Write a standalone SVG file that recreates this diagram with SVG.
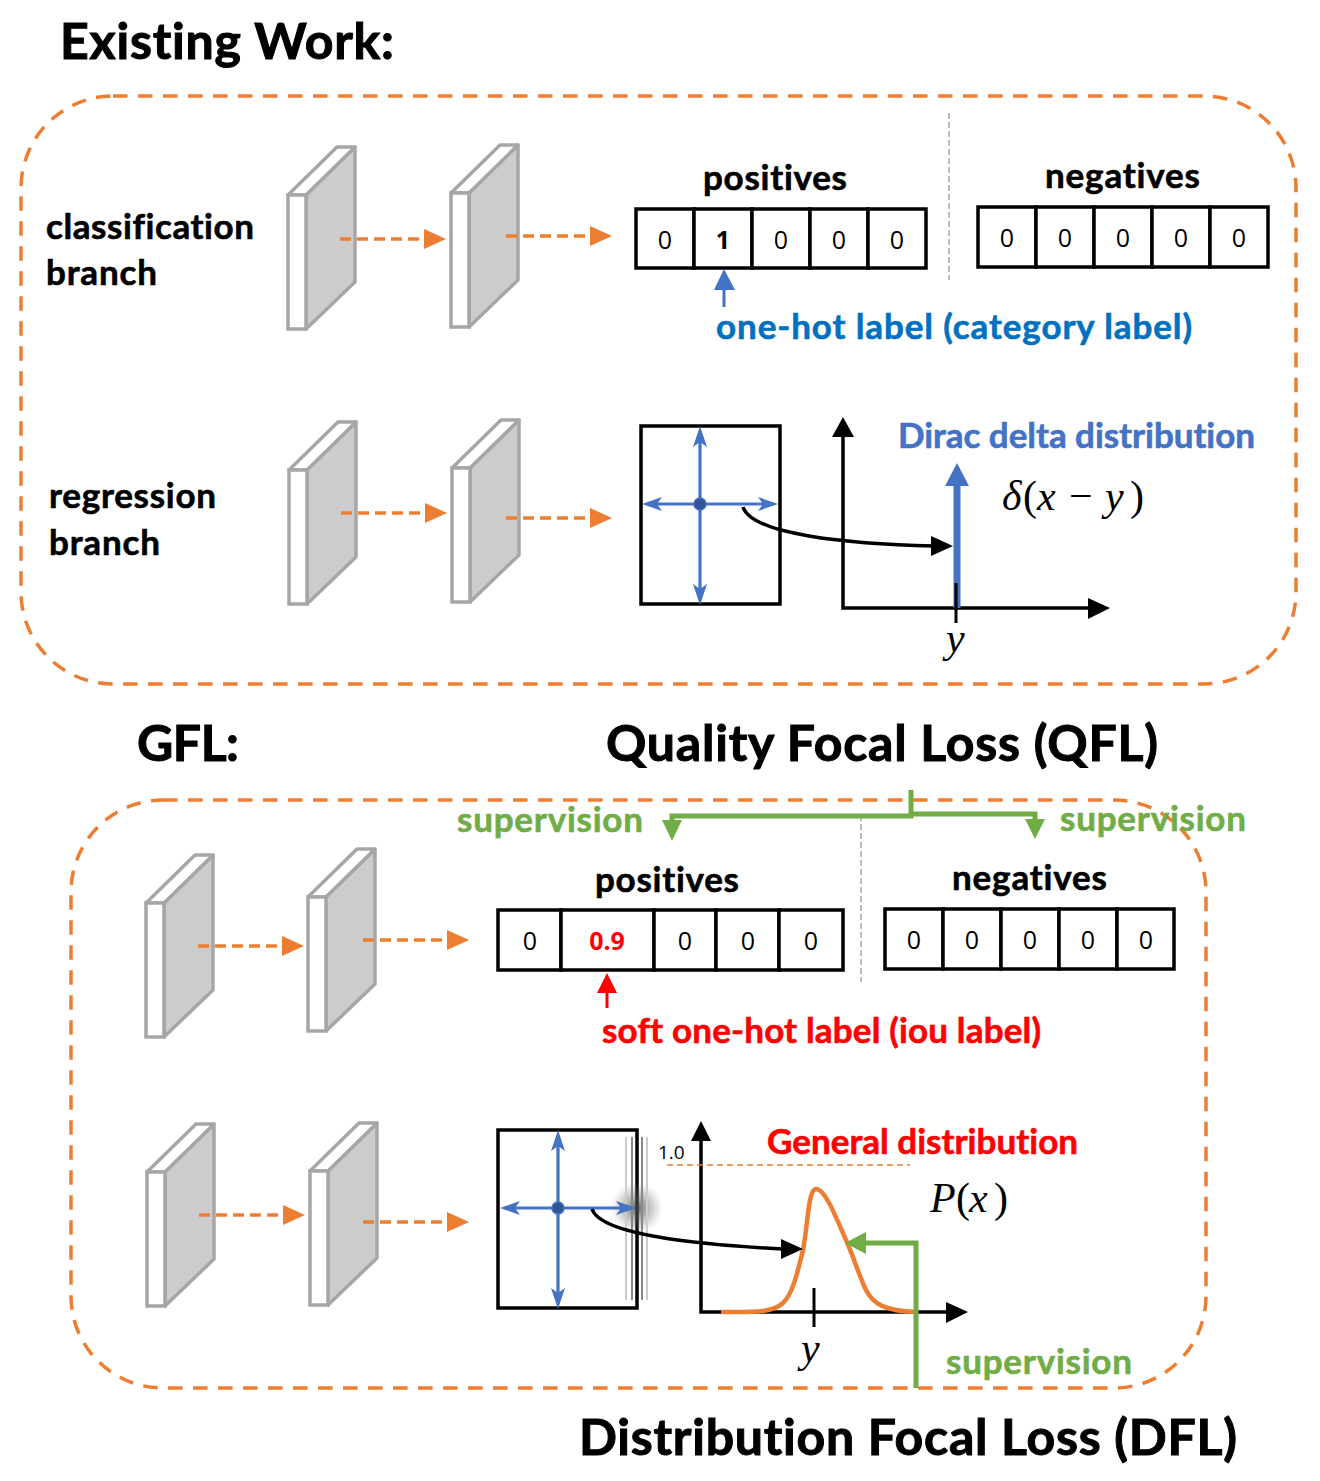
<svg xmlns="http://www.w3.org/2000/svg" width="1320" height="1481" viewBox="0 0 1320 1481">
<style>
text{font-family:"Lato","Open Sans","Liberation Sans",sans-serif;font-weight:700;font-variant-ligatures:none}
.h{font-size:50px;fill:#000;stroke:#000;stroke-width:1}
.b{font-size:35px;fill:#000;stroke:#000;stroke-width:.6}
.lab{font-size:35px;stroke-width:.6}
.blu{fill:#0070c0;stroke:#0070c0}.acc{fill:#4472c4;stroke:#4472c4}.red{fill:#f00;stroke:#f00}.grn{fill:#70ad47;stroke:#70ad47}
.n{font-family:"Open Sans","Liberation Sans",sans-serif;font-weight:400;font-size:25px;fill:#000;text-anchor:middle}
.m{font-family:"Liberation Serif",serif;font-style:italic;font-weight:400;font-size:42px;fill:#000}
.up{font-style:normal}
.dash{fill:none;stroke:#ed7d31;stroke-width:3.5;stroke-dasharray:14.5 10.5}
.flow{fill:none;stroke:#ed7d31;stroke-width:3.5;stroke-dasharray:11 6}
.cell{fill:#fff;stroke:#000;stroke-width:3.5}
.div{stroke:#bbb;stroke-width:2;stroke-dasharray:6 3;fill:none}
.k{fill:none;stroke:#000;stroke-width:3.5}
.blue{fill:none;stroke:#4472c4;stroke-width:3.2}
.gr{fill:none;stroke:#70ad47;stroke-width:5}
.of{fill:#ed7d31}.bf{fill:#4472c4}.kf{fill:#000}.gf{fill:#70ad47}
</style>
<defs>
<radialGradient id="blur"><stop offset="0" stop-color="#444" stop-opacity=".8"/><stop offset=".5" stop-color="#666" stop-opacity=".4"/><stop offset="1" stop-color="#888" stop-opacity="0"/></radialGradient>
<g id="slab">
<path d="M18 0L67-48V87L18 134Z" fill="#ccc" stroke="#a6a6a6" stroke-width="3.5" stroke-linejoin="round"/>
<path d="M0 0L49-48H67L18 0Z" fill="#fff" stroke="#a6a6a6" stroke-width="3.5" stroke-linejoin="round"/>
<rect x="0" y="0" width="18" height="134" fill="#fff" stroke="#a6a6a6" stroke-width="3.5"/>
</g>
<g id="flow">
<path class="flow" d="M0 0H86"/><path class="of" d="M84-10L106 0L84 10Z"/>
</g>
<g id="cross">
<path class="blue" d="M0-72V94M-52 0H74"/>
<path class="bf" d="M0-78L7-57L0-62L-7-57ZM0 101L7 80L0 85L-7 80ZM-58 0L-38-7L-43 0L-38 7ZM78 0L58-7L63 0L58 7Z"/>
<circle r="6" fill="#2f5597" stroke="#4472c4" stroke-width="1.5"/>
</g>
</defs>

<g id="title-existing"><text class="h" x="60" y="59" textLength="334">Existing Work:</text></g>
<g id="title-gfl"><text class="h" x="137" y="761" textLength="102">GFL:</text></g>
<g id="title-qfl"><text class="h" x="606" y="761" textLength="552">Quality Focal Loss (QFL)</text></g>
<g id="title-dfl"><text class="h" x="579" y="1455" textLength="658">Distribution Focal Loss (DFL)</text></g>

<g id="panel-existing"><rect class="dash" x="21" y="96" width="1275" height="588" rx="92"/></g>
<g id="panel-gfl"><rect class="dash" x="71" y="800" width="1135" height="588" rx="92"/></g>

<g id="label-classification"><text class="b" x="46" y="239" textLength="208">classification</text><text class="b" x="46" y="285" textLength="111">branch</text></g>
<g id="label-regression"><text class="b" x="49" y="508" textLength="167">regression</text><text class="b" x="49" y="555" textLength="111">branch</text></g>

<g id="slabs-classification"><use href="#slab" x="288" y="195"/><use href="#slab" x="451" y="193"/></g>
<g id="slabs-regression"><use href="#slab" x="289" y="470"/><use href="#slab" x="452" y="468"/></g>
<g id="slabs-gfl-top"><use href="#slab" x="146" y="903"/><use href="#slab" x="308" y="897"/></g>
<g id="slabs-gfl-bottom"><use href="#slab" x="147" y="1172"/><use href="#slab" x="310" y="1171"/></g>

<g id="cells-existing-pos">
<rect class="cell" x="636" y="209" width="58" height="59"/><rect class="cell" x="694" y="209" width="58" height="59"/><rect class="cell" x="752" y="209" width="58" height="59"/><rect class="cell" x="810" y="209" width="58" height="59"/><rect class="cell" x="868" y="209" width="58" height="59"/>
<text class="n" x="665" y="249">0</text><text class="n" x="723" y="249" style="font-weight:700">1</text><text class="n" x="781" y="249">0</text><text class="n" x="839" y="249">0</text><text class="n" x="897" y="249">0</text>
<text class="b" x="703" y="190" textLength="144">positives</text>
</g>
<g id="cells-existing-neg">
<rect class="cell" x="978" y="207" width="58" height="60"/><rect class="cell" x="1036" y="207" width="58" height="60"/><rect class="cell" x="1094" y="207" width="58" height="60"/><rect class="cell" x="1152" y="207" width="58" height="60"/><rect class="cell" x="1210" y="207" width="58" height="60"/>
<text class="n" x="1007" y="247">0</text><text class="n" x="1065" y="247">0</text><text class="n" x="1123" y="247">0</text><text class="n" x="1181" y="247">0</text><text class="n" x="1239" y="247">0</text>
<text class="b" x="1045" y="188" textLength="155">negatives</text>
</g>
<path class="div" d="M949 113V280"/>
<g id="label-onehot"><text class="lab blu" x="716" y="339" textLength="476">one-hot label (category label)</text></g>

<g id="box-reg"><rect x="641" y="426" width="139" height="178" fill="#fff" stroke="#000" stroke-width="3.5"/><use href="#cross" x="700" y="504"/></g>
<g id="label-dirac"><text class="lab acc" x="898" y="448" textLength="357">Dirac delta distribution</text></g>
<g id="math-delta"><text class="m" x="1002 1023 1037 1069 1105 1130" y="510">δ<tspan class="up">(</tspan>x<tspan class="up">−</tspan>y<tspan class="up">)</tspan></text></g>
<g id="math-y1"><text class="m" x="946" y="652">y</text></g>

<g id="cells-gfl-pos">
<rect class="cell" x="498" y="910" width="63" height="60"/><rect class="cell" x="561" y="910" width="93" height="60"/><rect class="cell" x="654" y="910" width="62" height="60"/><rect class="cell" x="716" y="910" width="63" height="60"/><rect class="cell" x="779" y="910" width="64" height="60"/>
<text class="n" x="530" y="950">0</text><text class="n" x="607" y="950" style="font-weight:700;fill:#f00">0.9</text><text class="n" x="685" y="950">0</text><text class="n" x="748" y="950">0</text><text class="n" x="811" y="950">0</text>
<text class="b" x="595" y="892" textLength="144">positives</text>
</g>
<g id="cells-gfl-neg">
<rect class="cell" x="885" y="909" width="58" height="60"/><rect class="cell" x="943" y="909" width="58" height="60"/><rect class="cell" x="1001" y="909" width="58" height="60"/><rect class="cell" x="1059" y="909" width="58" height="60"/><rect class="cell" x="1117" y="909" width="57" height="60"/>
<text class="n" x="914" y="949">0</text><text class="n" x="972" y="949">0</text><text class="n" x="1030" y="949">0</text><text class="n" x="1088" y="949">0</text><text class="n" x="1146" y="949">0</text>
<text class="b" x="952" y="890" textLength="155">negatives</text>
</g>
<path class="div" d="M861 815V982"/>
<g id="label-soft"><text class="lab red" x="602" y="1043" textLength="439">soft one-hot label (iou label)</text></g>
<g id="label-sup-left"><text class="lab grn" x="457" y="832" textLength="186">supervision</text></g>
<g id="label-sup-right"><text class="lab grn" x="1060" y="831" textLength="186">supervision</text></g>
<g id="label-sup-bottom"><text class="lab grn" x="946" y="1374" textLength="186">supervision</text></g>

<g id="box-gfl">
<rect x="498" y="1130" width="139" height="178" fill="#fff" stroke="#000" stroke-width="3.5"/>
<circle cx="637" cy="1208" r="26" fill="url(#blur)"/>
<path d="M626 1137V1300M647 1137V1300" stroke="#ccc" stroke-width="2" fill="none"/>
<path d="M632 1137V1300M642 1137V1300" stroke="#888" stroke-width="2" fill="none"/>
<use href="#cross" x="558" y="1208"/>
</g>
<g id="label-general"><text class="lab red" x="767" y="1154" textLength="311">General distribution</text></g>
<g id="math-p"><text class="m" x="930 956 969 994" y="1212">P<tspan class="up">(</tspan>x<tspan class="up">)</tspan></text></g>
<g id="math-y2"><text class="m" x="801" y="1362">y</text></g>
<g id="tick-1"><text x="658" y="1159" style="font-family:'Open Sans','Liberation Sans',sans-serif;font-weight:400;font-size:19px" fill="#000">1.0</text></g>

<g id="connectors">
<use href="#flow" x="340" y="239"/><use href="#flow" x="506" y="236"/>
<use href="#flow" x="341" y="513"/><use href="#flow" x="506" y="518"/>
<use href="#flow" x="198" y="946"/><use href="#flow" x="363" y="940"/>
<use href="#flow" x="199" y="1215"/><use href="#flow" x="363" y="1222"/>

<path d="M724 307V285" stroke="#4472c4" stroke-width="3" fill="none"/><path class="bf" d="M724 269L735 290H714Z"/>
<path d="M607 1008V990" stroke="#f00" stroke-width="3" fill="none"/><path d="M607 973L617 993H597Z" fill="#f00"/>

<path class="k" d="M843 436V608H1092"/>
<path class="kf" d="M843 417L854 437H832ZM1110 608L1088 598V619Z"/>
<path d="M957 608V485" stroke="#4472c4" stroke-width="7" fill="none"/><path class="bf" d="M957 463L969 486H945Z"/>
<path d="M956 583V623" stroke="#000" stroke-width="3" fill="none"/>
<path class="k" d="M743 507C752 535 850 544 934 546"/><path class="kf" d="M953 546L931 536V556Z"/>

<path class="k" d="M701 1138V1312H950"/>
<path class="kf" d="M701 1121L711 1141H691ZM968 1312L946 1302V1323Z"/>
<path d="M667 1165H910" stroke="#ed7d31" stroke-width="1.5" style="stroke-dasharray:6 4" fill="none"/>
<path d="M814 1288V1327" stroke="#000" stroke-width="3" fill="none"/>
<path d="M723 1312C755 1312 772 1313 783 1303C792 1295 797 1275 803 1250C808 1225 808 1189 816 1189C825 1189 835 1215 846 1240C854 1258 860 1278 866 1290C873 1304 885 1311 916 1312" fill="none" stroke="#ed7d31" stroke-width="4.5" stroke-linecap="round"/>
<path class="k" d="M592 1209C600 1235 700 1245 785 1249"/><path class="kf" d="M803 1249L781 1239V1259Z"/>
<path class="gr" d="M916 1388V1243H862"/><path class="gf" d="M845 1243L866 1232V1254Z"/>

<path class="gr" d="M911 790V816H672V824M911 814H1035V822"/>
<path class="gf" d="M672 841L662 820H682ZM1035 839L1025 819H1045Z"/>
</g>
</svg>
